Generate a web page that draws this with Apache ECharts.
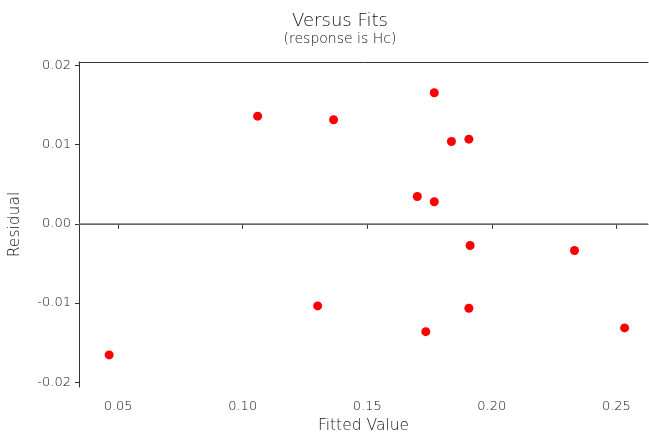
<!DOCTYPE html>
<html>
<head>
<meta charset="utf-8">
<script src="https://cdn.jsdelivr.net/npm/echarts@6/dist/echarts.min.js"></script>
<style>
  html, body { margin: 0; padding: 0; background: #fff; }
</style>
</head>
<body>
<div id="main" style="width: 649px; height: 432px;"></div>
<script>
// fitted values vs residuals
var fitted = [0.0464, 0.1060, 0.1365, 0.1301, 0.1769, 0.1838, 0.1908,
              0.1701, 0.1769, 0.1913, 0.2332, 0.1908, 0.1735, 0.2533];
var residual = [-0.01655, 0.01359, 0.01314, -0.01036, 0.01655, 0.01040, 0.01069,
                0.00345, 0.00278, -0.00274, -0.00337, -0.01066, -0.01361, -0.01314];
var xTicks = [0.05, 0.10, 0.15, 0.20, 0.25];
var yTicks = [-0.02, -0.01, 0.00, 0.01, 0.02];

var font = 'DejaVu Sans';
var points = [];
for (var i = 0; i < fitted.length; i++) {
  points.push([fitted[i], residual[i]]);
}

var chart = echarts.init(document.getElementById('main'));
var option = {
  animation: false,
  title: {
    text: 'Versus Fits',
    subtext: '(response is Hc)',
    left: 335,
    top: 7,
    textAlign: 'center',
    itemGap: 2,
    textStyle: { fontFamily: font, fontSize: 18, fontWeight: 200, color: '#111' },
    subtextStyle: { fontFamily: font, fontSize: 14, fontWeight: 200, color: '#111' }
  },
  grid: {
    left: 79,
    right: 1,
    top: 62,
    bottom: 45,
    outerBoundsMode: 'none'
  },
  xAxis: [{
    type: 'value',
    min: 0.0343,
    max: 0.2627,
    name: 'Fitted Value',
    nameLocation: 'middle',
    nameGap: 29,
    nameTextStyle: { fontFamily: font, fontSize: 15.5, fontWeight: 200, color: '#111' },
    axisLine: { show: true, lineStyle: { color: '#333', width: 1 } },
    axisTick: { show: true, length: 5, customValues: xTicks, lineStyle: { color: '#333' } },
    axisLabel: {
      customValues: xTicks,
      margin: 13,
      fontFamily: font,
      fontSize: 13,
      fontWeight: 200,
      color: '#111',
      formatter: function (v) { return v.toFixed(2); }
    },
    splitLine: { show: false }
  }, {
    type: 'value',
    position: 'top',
    min: 0.0343,
    max: 0.2627,
    axisLine: { show: true, lineStyle: { color: '#333', width: 1 } },
    axisTick: { show: false },
    axisLabel: { show: false },
    splitLine: { show: false }
  }],
  yAxis: {
    type: 'value',
    min: -0.0206,
    max: 0.02043,
    name: 'Residual',
    nameLocation: 'middle',
    nameGap: 56,
    nameTextStyle: { fontFamily: font, fontSize: 15.5, fontWeight: 200, color: '#111' },
    axisLine: { show: true, lineStyle: { color: '#333', width: 1 } },
    axisTick: { show: true, length: 4, customValues: yTicks, lineStyle: { color: '#333' } },
    axisLabel: {
      customValues: yTicks,
      margin: 8,
      fontFamily: font,
      fontSize: 13,
      fontWeight: 200,
      color: '#111',
      formatter: function (v) { return v.toFixed(2); }
    },
    splitLine: { show: false }
  },
  series: [{
    type: 'scatter',
    data: points,
    symbol: 'circle',
    symbolSize: 9,
    itemStyle: { color: '#ff0000', opacity: 1 },
    markLine: {
      silent: true,
      symbol: 'none',
      label: { show: false },
      lineStyle: { color: '#7a7a7a', width: 1.5, type: 'solid' },
      data: [{ yAxis: 0 }]
    }
  }]
};
chart.setOption(option);
</script>
</body>
</html>
